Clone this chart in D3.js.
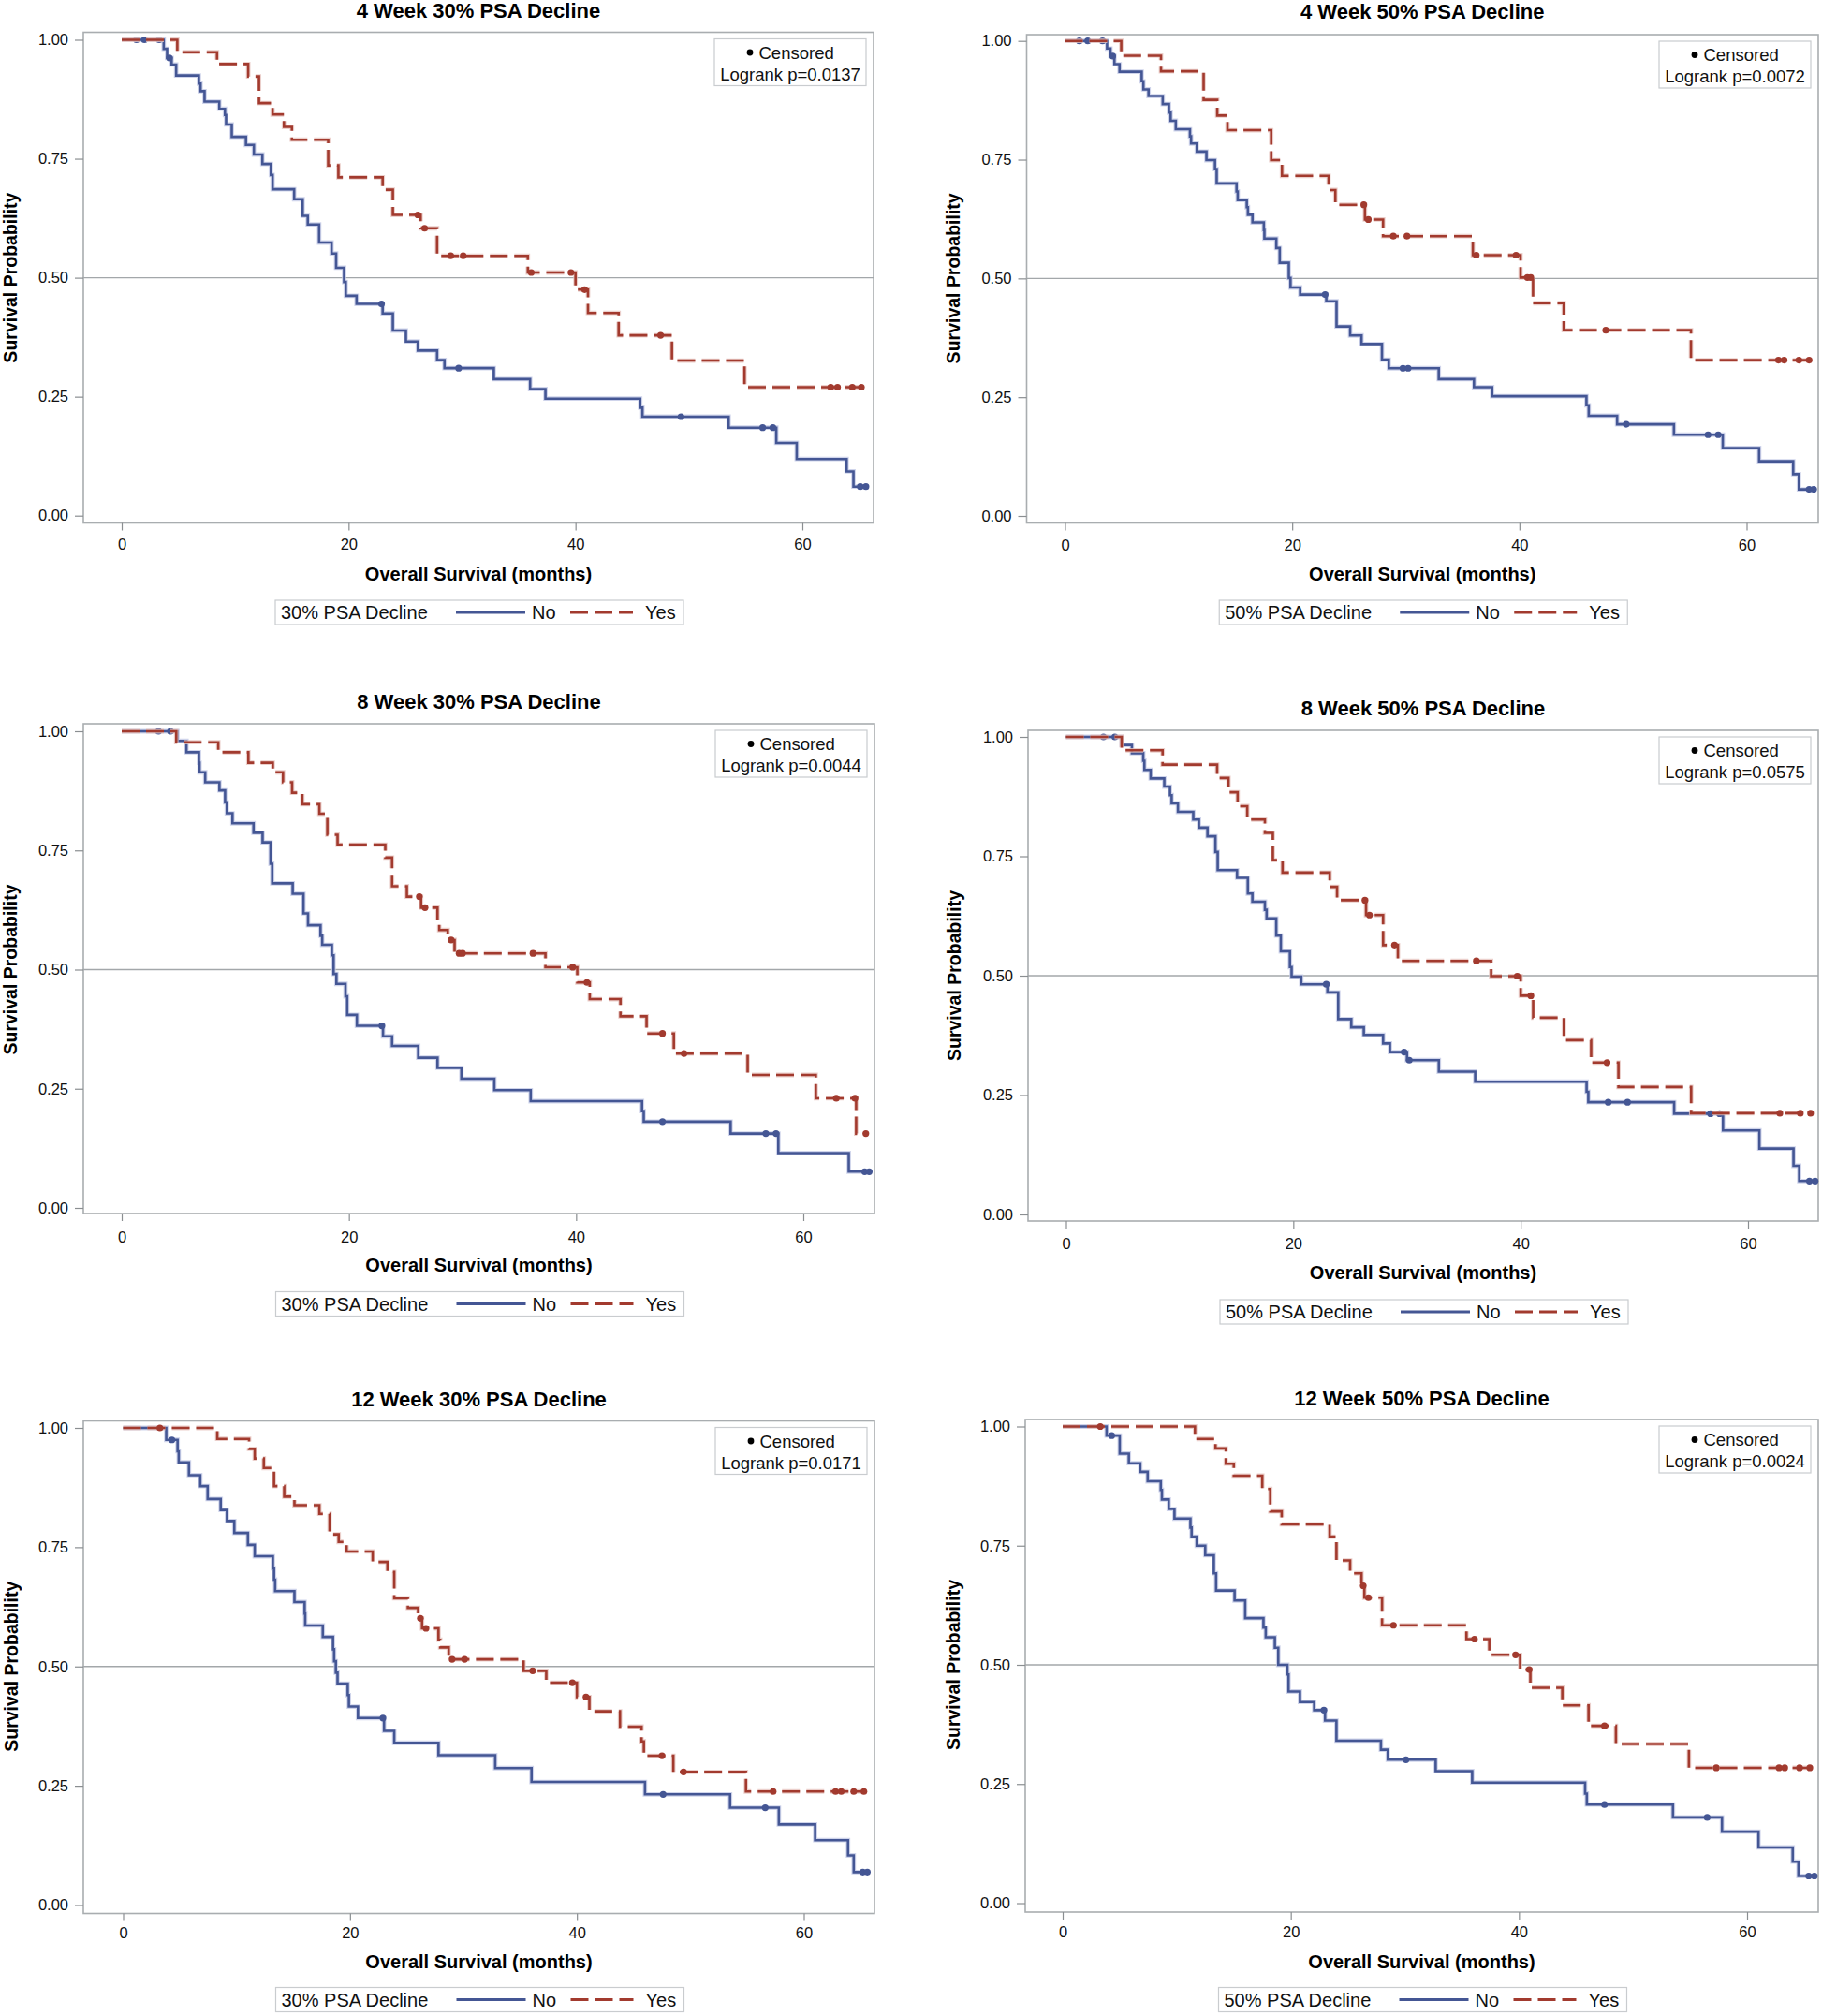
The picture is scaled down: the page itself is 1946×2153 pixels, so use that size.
<!DOCTYPE html>
<html>
<head>
<meta charset="utf-8">
<script src="https://cdn.jsdelivr.net/npm/d3@7"></script>
<style>
  html, body { margin: 0; padding: 0; background: #fff; }
  svg { display: block; font-family: "Liberation Sans", Arial, sans-serif; }
</style>
</head>
<body>
<svg id="chart" width="1946" height="2153"></svg>
<script>
// ---------------- DATA ----------------
const panelTitles = ["4 Week 30% PSA Decline", "4 Week 50% PSA Decline",
                     "8 Week 30% PSA Decline", "8 Week 50% PSA Decline",
                     "12 Week 30% PSA Decline", "12 Week 50% PSA Decline"];
const legendTitles = ["30% PSA Decline", "50% PSA Decline", "30% PSA Decline",
                      "50% PSA Decline", "30% PSA Decline", "50% PSA Decline"];
const logrankP = ["0.0137", "0.0072", "0.0044", "0.0575", "0.0171", "0.0024"];
const groupNames = ["No", "Yes"];
const xTicks = [0, 20, 40, 60];
const yTicks = [0, 0.25, 0.5, 0.75, 1];
const xAxisTitle = "Overall Survival (months)";
const yAxisTitle = "Survival Probability";
const censorLabel = "Censored";

// 4 Week 30%
const wk4p30NoTime = [3.7,4.0,4.4,4.8,6.8,6.95,7.3,8.6,9.1,9.2,9.7,10.95,11.65,12.4,13.15,13.3,15.2,15.95,16.4,17.4,18.5,18.9,19.6,19.75,20.7,23.0,23.9,25.05,26.1,27.8,28.45,32.8,36.0,37.35,45.7,45.9,53.5,57.7,59.5,63.9,64.5];
const wk4p30NoSurv = [0.981,0.962,0.948,0.925,0.908,0.892,0.870,0.855,0.842,0.822,0.796,0.779,0.759,0.739,0.716,0.686,0.665,0.630,0.612,0.574,0.551,0.521,0.491,0.462,0.445,0.425,0.389,0.366,0.347,0.327,0.310,0.287,0.266,0.246,0.227,0.208,0.185,0.153,0.119,0.093,0.061];
const wk4p30NoCens = [1.3,2.0,3.3,4.2,22.9,29.7,49.3,56.5,57.4,65.1,65.6];
const wk4p30YesTime = [4.9,8.4,11.15,12.1,13.3,14.3,15.0,18.2,19.1,23.0,23.9,26.35,27.8,35.8,40.0,41.1,43.8,48.5,54.9];
const wk4p30YesSurv = [0.974,0.949,0.923,0.867,0.843,0.817,0.790,0.736,0.711,0.685,0.632,0.604,0.546,0.511,0.475,0.426,0.379,0.326,0.270];
const wk4p30YesCens = [26.1,26.7,29.0,30.1,36.1,39.6,40.8,47.5,62.5,63.1,64.4,65.2];

// 4 Week 50%
const wk4p50NoTime = [3.7,4.0,4.35,4.8,6.75,6.9,7.35,8.6,9.15,9.3,9.75,11.0,11.1,11.6,12.45,13.2,13.35,15.1,15.2,16.0,16.1,16.5,17.5,17.55,18.6,18.9,19.7,19.85,20.7,23.0,23.9,25.1,26.1,27.9,28.5,32.9,36.0,37.6,45.9,46.1,48.6,53.6,57.9,61.1,64.1,64.6];
const wk4p50NoSurv = [0.984,0.968,0.951,0.935,0.915,0.898,0.884,0.867,0.849,0.832,0.814,0.799,0.784,0.767,0.749,0.730,0.700,0.683,0.665,0.650,0.634,0.618,0.602,0.584,0.564,0.533,0.501,0.481,0.466,0.452,0.399,0.380,0.362,0.329,0.311,0.288,0.271,0.252,0.233,0.211,0.193,0.171,0.143,0.115,0.088,0.056];
const wk4p50NoCens = [1.26,2.0,3.3,4.2,22.9,29.75,30.2,49.4,56.6,57.5,65.5,65.9];
const wk4p50YesTime = [4.95,8.45,12.2,13.4,14.3,18.15,19.1,23.2,23.8,26.4,28.0,35.9,40.1,41.2,43.9,55.1];
const wk4p50YesSurv = [0.969,0.936,0.876,0.843,0.812,0.749,0.716,0.686,0.655,0.624,0.589,0.549,0.502,0.448,0.391,0.328];
const wk4p50YesCens = [26.3,26.7,28.9,30.1,36.2,39.7,40.7,41.0,47.6,62.8,63.3,64.6,65.5];

// 8 Week 30%
const wk8p30NoTime = [4.9,5.7,6.8,6.85,7.35,8.6,9.1,9.25,9.75,11.6,12.4,13.1,13.25,15.05,16.0,16.4,17.5,17.65,18.5,18.65,18.9,19.7,19.85,20.7,23.0,23.8,26.1,27.8,29.9,32.8,36.0,45.8,45.95,53.6,57.8,64.0];
const wk8p30NoSurv = [0.980,0.956,0.934,0.914,0.893,0.876,0.851,0.828,0.807,0.787,0.767,0.722,0.681,0.659,0.618,0.593,0.571,0.552,0.530,0.491,0.470,0.444,0.405,0.382,0.360,0.340,0.315,0.294,0.271,0.247,0.224,0.203,0.181,0.156,0.115,0.076];
const wk8p30NoCens = [3.24,4.29,22.9,47.6,56.7,57.6,65.4,65.8];
const wk8p30YesTime = [4.8,8.5,11.15,13.3,14.2,15.0,15.9,17.4,18.1,19.0,23.2,23.8,25.1,26.35,27.8,27.95,28.7,29.3,37.3,40.1,41.2,43.9,46.2,48.6,55.1,61.1,64.65];
const wk8p30YesSurv = [0.977,0.956,0.934,0.914,0.893,0.871,0.847,0.827,0.783,0.762,0.735,0.675,0.653,0.630,0.603,0.583,0.562,0.534,0.505,0.473,0.438,0.402,0.366,0.324,0.279,0.230,0.156];
const wk8p30YesCens = [26.2,26.7,29.0,29.7,30.0,36.2,39.7,40.95,47.6,49.5,62.9,64.55,65.5];

// 8 Week 50%
const wk8p50NoTime = [4.9,5.8,6.8,6.9,7.45,8.65,9.15,9.3,9.85,11.2,11.7,12.45,13.15,13.35,15.05,16.0,16.4,17.5,17.65,18.5,18.9,19.7,19.85,20.7,23.0,23.95,25.1,26.2,27.9,28.5,30.0,32.8,36.0,45.8,45.95,53.5,57.8,61.0,64.0,64.5];
const wk8p50NoSurv = [0.983,0.966,0.950,0.931,0.913,0.896,0.878,0.861,0.843,0.827,0.810,0.792,0.759,0.721,0.705,0.672,0.655,0.638,0.620,0.584,0.551,0.518,0.498,0.482,0.465,0.409,0.392,0.376,0.358,0.340,0.323,0.299,0.278,0.257,0.235,0.211,0.176,0.138,0.102,0.070];
const wk8p50NoCens = [3.3,4.3,22.9,29.75,30.2,47.7,49.4,56.7,57.5,65.4,65.9];
const wk8p50YesTime = [4.9,8.5,13.3,14.3,15.1,15.95,17.5,18.2,19.05,23.2,23.85,26.4,27.9,29.2,37.4,40.0,41.1,43.8,46.2,48.6,55.0];
const wk8p50YesSurv = [0.972,0.942,0.914,0.884,0.855,0.827,0.799,0.742,0.716,0.686,0.658,0.627,0.564,0.531,0.499,0.458,0.412,0.365,0.318,0.267,0.212];
const wk8p50YesCens = [26.3,26.7,28.9,36.1,39.7,40.9,47.6,62.8,64.6,65.5];

// 12 Week 30%
const wk12p30NoTime = [3.8,4.8,4.9,5.8,6.8,7.45,8.6,9.15,9.8,11.0,11.6,13.2,13.3,13.4,15.1,16.0,16.05,17.6,18.5,18.6,18.75,18.9,19.8,19.9,20.7,23.0,23.9,27.8,32.8,36.0,46.0,53.5,57.8,61.0,63.9,64.4];
const wk12p30NoSurv = [0.975,0.951,0.928,0.901,0.878,0.851,0.828,0.805,0.780,0.755,0.731,0.706,0.682,0.658,0.635,0.611,0.586,0.562,0.536,0.511,0.487,0.464,0.440,0.416,0.392,0.365,0.340,0.314,0.287,0.258,0.232,0.204,0.169,0.136,0.104,0.069];
const wk12p30NoCens = [4.3,22.9,47.6,56.6,65.2,65.6];
const wk12p30YesTime = [8.3,11.1,11.6,12.4,13.3,14.2,15.1,17.3,18.2,19.0,19.7,22.0,23.3,23.9,25.1,26.0,26.35,27.8,27.95,28.7,35.3,37.3,40.0,41.1,43.8,45.7,45.9,48.5,54.9];
const wk12p30YesSurv = [0.977,0.956,0.936,0.916,0.878,0.856,0.838,0.820,0.777,0.761,0.741,0.719,0.698,0.643,0.623,0.601,0.580,0.556,0.540,0.515,0.491,0.466,0.436,0.406,0.374,0.343,0.313,0.279,0.238];
const wk12p30YesCens = [3.24,26.2,26.7,29.0,30.1,36.1,39.6,40.8,47.5,49.4,57.3,62.8,63.3,64.4,65.3];

// 12 Week 50%
const wk12p50NoTime = [3.85,5.0,5.8,6.8,7.45,8.6,8.7,9.3,9.8,11.2,11.3,11.75,12.5,13.25,13.45,15.07,16.0,17.6,17.8,18.6,18.9,19.7,19.8,20.8,22.05,23.0,24.0,27.9,28.5,32.7,35.9,45.8,45.95,53.5,57.8,61.0,64.0,64.5];
const wk12p50NoSurv = [0.981,0.943,0.923,0.905,0.885,0.867,0.847,0.827,0.807,0.788,0.769,0.750,0.730,0.692,0.656,0.635,0.598,0.578,0.558,0.536,0.500,0.480,0.444,0.422,0.405,0.383,0.341,0.322,0.301,0.277,0.253,0.230,0.207,0.180,0.150,0.117,0.087,0.057];
const wk12p50NoCens = [4.3,22.9,30.1,47.5,56.5,65.4,65.9];
const wk12p50YesTime = [11.6,13.4,14.3,15.0,17.5,18.2,19.2,23.4,24.0,25.2,26.2,26.45,28.0,35.4,37.4,40.1,41.0,43.8,46.1,48.5,54.9];
const wk12p50YesSurv = [0.974,0.954,0.922,0.897,0.869,0.822,0.795,0.769,0.719,0.692,0.666,0.641,0.583,0.554,0.521,0.490,0.452,0.415,0.372,0.334,0.284];
const wk12p50YesCens = [3.3,26.35,26.8,29.0,36.1,39.7,40.9,47.5,57.3,62.8,63.3,64.6,65.5];

// series table built from the arrays above
const seriesByPanel = [
  [{t: wk4p30NoTime, s: wk4p30NoSurv, c: wk4p30NoCens},   {t: wk4p30YesTime, s: wk4p30YesSurv, c: wk4p30YesCens}],
  [{t: wk4p50NoTime, s: wk4p50NoSurv, c: wk4p50NoCens},   {t: wk4p50YesTime, s: wk4p50YesSurv, c: wk4p50YesCens}],
  [{t: wk8p30NoTime, s: wk8p30NoSurv, c: wk8p30NoCens},   {t: wk8p30YesTime, s: wk8p30YesSurv, c: wk8p30YesCens}],
  [{t: wk8p50NoTime, s: wk8p50NoSurv, c: wk8p50NoCens},   {t: wk8p50YesTime, s: wk8p50YesSurv, c: wk8p50YesCens}],
  [{t: wk12p30NoTime, s: wk12p30NoSurv, c: wk12p30NoCens}, {t: wk12p30YesTime, s: wk12p30YesSurv, c: wk12p30YesCens}],
  [{t: wk12p50NoTime, s: wk12p50NoSurv, c: wk12p50NoCens}, {t: wk12p50YesTime, s: wk12p50YesSurv, c: wk12p50YesCens}]
];

// ---------------- LAYOUT (pixels) ----------------
const layout = [
  {x0: 130,    x60: 857,    y1: 42.5,  y0: 550.7, L: 89,     R: 933,  T: 34.5,  B: 558.5,  titleY: 11,     xTickY: 581.5,  xLabY: 612.5,  legY: 654,    yLabX: 11},
  {x0: 1137.5, x60: 1865.5, y1: 43.7,  y0: 551,   L: 1096.5, R: 1942, T: 37,    B: 558.5,  titleY: 12.5,   xTickY: 582,    xLabY: 612.5,  legY: 654,    yLabX: 1018},
  {x0: 130,    x60: 858,    y1: 781,   y0: 1290,  L: 89,     R: 934,  T: 773,   B: 1296,   titleY: 749.5,  xTickY: 1321,   xLabY: 1351,   legY: 1392.5, yLabX: 11},
  {x0: 1138.5, x60: 1867,   y1: 787,   y0: 1297,  L: 1098,   R: 1942, T: 780,   B: 1304,   titleY: 756,    xTickY: 1328,   xLabY: 1358.6, legY: 1401,   yLabX: 1019},
  {x0: 131.5,  x60: 858.5,  y1: 1525,  y0: 2034.5,L: 89,     R: 934,  T: 1517.5,B: 2043.5, titleY: 1494,   xTickY: 2064.5, xLabY: 2095,   legY: 2135.5, yLabX: 12},
  {x0: 1135,   x60: 1866,   y1: 1523.5,y0: 2032.5,L: 1095,   R: 1942, T: 1516,  B: 2042,   titleY: 1492.6, xTickY: 2063,   xLabY: 2095,   legY: 2135.5, yLabX: 1018}
];
const colors = ["#445694", "#A23A2E"];
const halos  = ["#c3c9e6", "#e6c3be"];
const dashes = [null, "19,7"];

const svg = d3.select("#chart");

function survAt(t, times, surv) {
  let s = 1;
  for (let i = 0; i < times.length; i++) if (times[i] <= t) s = surv[i];
  return s;
}

layout.forEach((g, pi) => {
  const x = d3.scaleLinear().domain([0, 60]).range([g.x0, g.x60]);
  const y = d3.scaleLinear().domain([0, 1]).range([g.y0, g.y1]);
  const gp = svg.append("g");
  const cx = (g.L + g.R) / 2;

  // title
  gp.append("text").attr("x", cx).attr("y", g.titleY).attr("dy", "0.36em")
    .attr("text-anchor", "middle").attr("font-size", 22).attr("font-weight", "bold")
    .text(panelTitles[pi]);

  // frame
  gp.append("rect").attr("x", g.L).attr("y", g.T).attr("width", g.R - g.L).attr("height", g.B - g.T)
    .attr("fill", "none").attr("stroke", "#a9adb0").attr("stroke-width", 1.6);

  // y axis
  const yAxis = d3.axisLeft(y).tickValues(yTicks).tickFormat(d3.format(".2f")).tickSize(9).tickPadding(7);
  const ya = gp.append("g").attr("transform", `translate(${g.L},0)`).call(yAxis);
  ya.select(".domain").remove();
  ya.selectAll("line").attr("stroke", "#8a8e91").attr("stroke-width", 1.2);
  ya.selectAll("text").attr("font-size", 16.5).attr("fill", "#111").attr("font-family", "Liberation Sans, Arial, sans-serif");

  // x axis
  const pad = (g.xTickY - g.B) - 8 + 5.9 - 11.7;
  const xAxis = d3.axisBottom(x).tickValues(xTicks).tickFormat(d3.format("d")).tickSize(8).tickPadding(pad);
  const xa = gp.append("g").attr("transform", `translate(0,${g.B})`).call(xAxis);
  xa.select(".domain").remove();
  xa.selectAll("line").attr("stroke", "#8a8e91").attr("stroke-width", 1.2);
  xa.selectAll("text").attr("font-size", 16.5).attr("fill", "#111").attr("font-family", "Liberation Sans, Arial, sans-serif");

  // axis titles
  gp.append("text").attr("x", cx).attr("y", g.xLabY).attr("dy", "0.36em")
    .attr("text-anchor", "middle").attr("font-size", 20).attr("font-weight", "bold")
    .text(xAxisTitle);
  const midY = (g.y0 + g.y1) / 2;
  gp.append("text").attr("transform", `translate(${g.yLabX},${midY}) rotate(-90)`).attr("dy", "0.36em")
    .attr("text-anchor", "middle").attr("font-size", 19.5).attr("font-weight", "bold")
    .text(yAxisTitle);

  // reference line at 0.5
  gp.append("line").attr("x1", g.L).attr("x2", g.R).attr("y1", y(0.5)).attr("y2", y(0.5))
    .attr("stroke", "#a3a7aa").attr("stroke-width", 1.3);

  // curves
  const line = d3.line().x(d => x(d[0])).y(d => y(d[1])).curve(d3.curveStepAfter);
  seriesByPanel[pi].forEach((ser, si) => {
    const end = Math.max(d3.max(ser.c), d3.max(ser.t));
    const pts = [[0, 1]].concat(ser.t.map((t, i) => [t, ser.s[i]]));
    pts.push([end, ser.s[ser.s.length - 1]]);
    const h = gp.append("path").attr("d", line(pts)).attr("fill", "none")
      .attr("stroke", halos[si]).attr("stroke-width", 4.8).attr("stroke-opacity", 0.8);
    const p = gp.append("path").attr("d", line(pts)).attr("fill", "none")
      .attr("stroke", colors[si]).attr("stroke-width", 2.6);
    if (dashes[si]) { h.attr("stroke-dasharray", dashes[si]); p.attr("stroke-dasharray", dashes[si]); }
    gp.selectAll(null).data(ser.c).enter().append("circle")
      .attr("cx", d => x(d)).attr("cy", d => y(survAt(d, ser.t, ser.s)))
      .attr("r", 3.6).attr("fill", colors[si]);
  });

  // inset box
  const bx0 = g.R - 170, bx1 = g.R - 8, by0 = g.T + 7, by1 = g.T + 57;
  const bcx = (bx0 + bx1) / 2;
  gp.append("rect").attr("x", bx0).attr("y", by0).attr("width", bx1 - bx0).attr("height", by1 - by0)
    .attr("fill", "#fff").attr("stroke", "#c9cccf").attr("stroke-width", 1.2);
  gp.append("circle").attr("cx", bcx - 43).attr("cy", g.T + 21.5).attr("r", 3.4).attr("fill", "#000");
  gp.append("text").attr("x", bcx - 33.5).attr("y", g.T + 21.5).attr("dy", "0.36em")
    .attr("font-size", 18.5).attr("fill", "#111").text(censorLabel);
  gp.append("text").attr("x", bcx).attr("y", g.T + 44.5).attr("dy", "0.36em")
    .attr("text-anchor", "middle").attr("font-size", 18.5).attr("fill", "#111")
    .text("Logrank p=" + logrankP[pi]);

  // legend
  const lx = cx - 217, ly = g.legY;
  gp.append("rect").attr("x", lx).attr("y", ly - 13).attr("width", 436).attr("height", 26)
    .attr("fill", "#fff").attr("stroke", "#c9cccf").attr("stroke-width", 1.2);
  gp.append("text").attr("x", lx + 6).attr("y", ly).attr("dy", "0.36em")
    .attr("font-size", 20).attr("fill", "#111").text(legendTitles[pi]);
  const itemX = [[193, 267, 274], [315, 382, 395]];
  groupNames.forEach((nm, si) => {
    const ln = gp.append("line").attr("x1", lx + itemX[si][0]).attr("x2", lx + itemX[si][1])
      .attr("y1", ly).attr("y2", ly).attr("stroke", colors[si]).attr("stroke-width", 2.8);
    if (dashes[si]) ln.attr("stroke-dasharray", dashes[si]);
    gp.append("text").attr("x", lx + itemX[si][2]).attr("y", ly).attr("dy", "0.36em")
      .attr("font-size", 20).attr("fill", "#111").text(nm);
  });
});
</script>
</body>
</html>
